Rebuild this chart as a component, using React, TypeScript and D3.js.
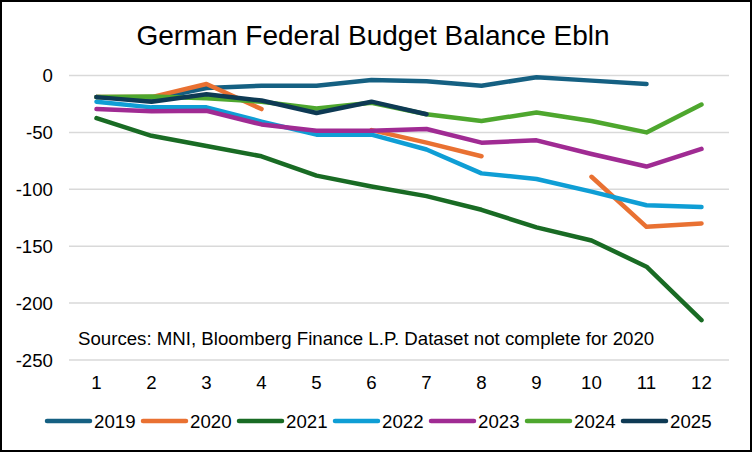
// @ts-nocheck
import React, { useRef, useEffect } from 'react';
import * as d3 from 'd3';

const months = ['1', '2', '3', '4', '5', '6', '7', '8', '9', '10', '11', '12'];
const years = ['2019', '2020', '2021', '2022', '2023', '2024', '2025'];
const colors = ['#156082', '#E97132', '#196B24', '#0F9ED5', '#A02B93', '#4EA72E', '#0E3A54'];

// Ebln, cumulative by month; null = no data
const v2019 = [-19, -21, -11, -9, -9, -4, -5, -9, -1.5, -4.5, -7.5, null];
const v2020 = [-19, -19, -7.5, -29.5, null, -48, -59, -71, null, -89, -133, -130];
const v2021 = [-37.5, -53, -62, -71, -88, -97.5, -106, -118, -133.5, -145, -168, -215];
const v2022 = [-23, -28, -28, -40.5, -52, -52, -65, -86, -91, -102, -114, -115.5];
const v2023 = [-29.5, -31.5, -31, -43, -48.5, -48.5, -47, -59, -57, -69, -80, -64.5];
const v2024 = [-19, -18.5, -20, -23, -29, -24, -34, -40, -32.5, -40, -50, -25.5];
const v2025 = [-19, -23, -16.5, -22, -33, -23, -34, null, null, null, null, null];
const seriesValues = [v2019, v2020, v2021, v2022, v2023, v2024, v2025];

const yTicks = [0, -50, -100, -150, -200, -250];

const title = 'German Federal Budget Balance Ebln';
const note = 'Sources: MNI, Bloomberg Finance L.P. Dataset not complete for 2020';

const W = 752;
const H = 452;
const FONT = 'Arial, "Liberation Sans", sans-serif';
const FS = 18.67;

const App = () => {
  const svgRef = useRef(null);

  useEffect(() => {
    const svg = d3.select(svgRef.current);
    svg.selectAll('*').remove();

    svg.append('rect')
      .attr('x', 1).attr('y', 1)
      .attr('width', W - 2).attr('height', H - 2)
      .attr('fill', '#fff').attr('stroke', '#000').attr('stroke-width', 2);

    const x = d3.scaleBand().domain(months).range([69, 729]);
    const y = d3.scaleLinear().domain([-250, 0]).range([360, 75.5]);

    // gridlines
    svg.append('g').selectAll('line')
      .data(yTicks)
      .enter().append('line')
      .attr('x1', 69).attr('x2', 729)
      .attr('y1', d => y(d)).attr('y2', d => y(d))
      .attr('stroke', '#d9d9d9').attr('stroke-width', 1.5);

    // y labels
    svg.append('g').selectAll('text')
      .data(yTicks)
      .enter().append('text')
      .attr('x', 53).attr('y', d => y(d))
      .attr('dy', '0.35em')
      .attr('text-anchor', 'end')
      .attr('font-family', FONT).attr('font-size', FS)
      .text(d => d);

    // x labels
    svg.append('g').selectAll('text')
      .data(months)
      .enter().append('text')
      .attr('x', d => x(d) + x.bandwidth() / 2).attr('y', 382)
      .attr('dy', '0.35em')
      .attr('text-anchor', 'middle')
      .attr('font-family', FONT).attr('font-size', FS)
      .text(d => d);

    svg.append('text')
      .attr('x', 373).attr('y', 45)
      .attr('text-anchor', 'middle')
      .attr('font-family', FONT).attr('font-size', 28)
      .text(title);

    svg.append('text')
      .attr('x', 78).attr('y', 345)
      .attr('font-family', FONT).attr('font-size', FS)
      .text(note);

    const line = d3.line()
      .defined(d => d.v !== null)
      .x(d => x(d.m) + x.bandwidth() / 2)
      .y(d => y(d.v));

    seriesValues.forEach((vals, i) => {
      svg.append('path')
        .datum(vals.map((v, j) => ({ m: months[j], v })))
        .attr('d', line)
        .attr('fill', 'none')
        .attr('stroke', colors[i])
        .attr('stroke-width', 4.5)
        .attr('stroke-linecap', 'round')
        .attr('stroke-linejoin', 'round');
    });

    // legend
    const leg = svg.append('g').selectAll('g')
      .data(years)
      .enter().append('g')
      .attr('transform', (d, i) => `translate(${47 + i * 96},421)`);
    leg.append('line')
      .attr('x1', 0).attr('x2', 43)
      .attr('stroke', (d, i) => colors[i])
      .attr('stroke-width', 4.5)
      .attr('stroke-linecap', 'round');
    leg.append('text')
      .attr('x', 47).attr('dy', '0.35em')
      .attr('font-family', FONT).attr('font-size', FS)
      .text(d => d);
  }, []);

  return (
    <svg ref={svgRef} width={W} height={H}
      style={{ position: 'absolute', left: 0, top: 0 }} />
  );
};

export default App;
